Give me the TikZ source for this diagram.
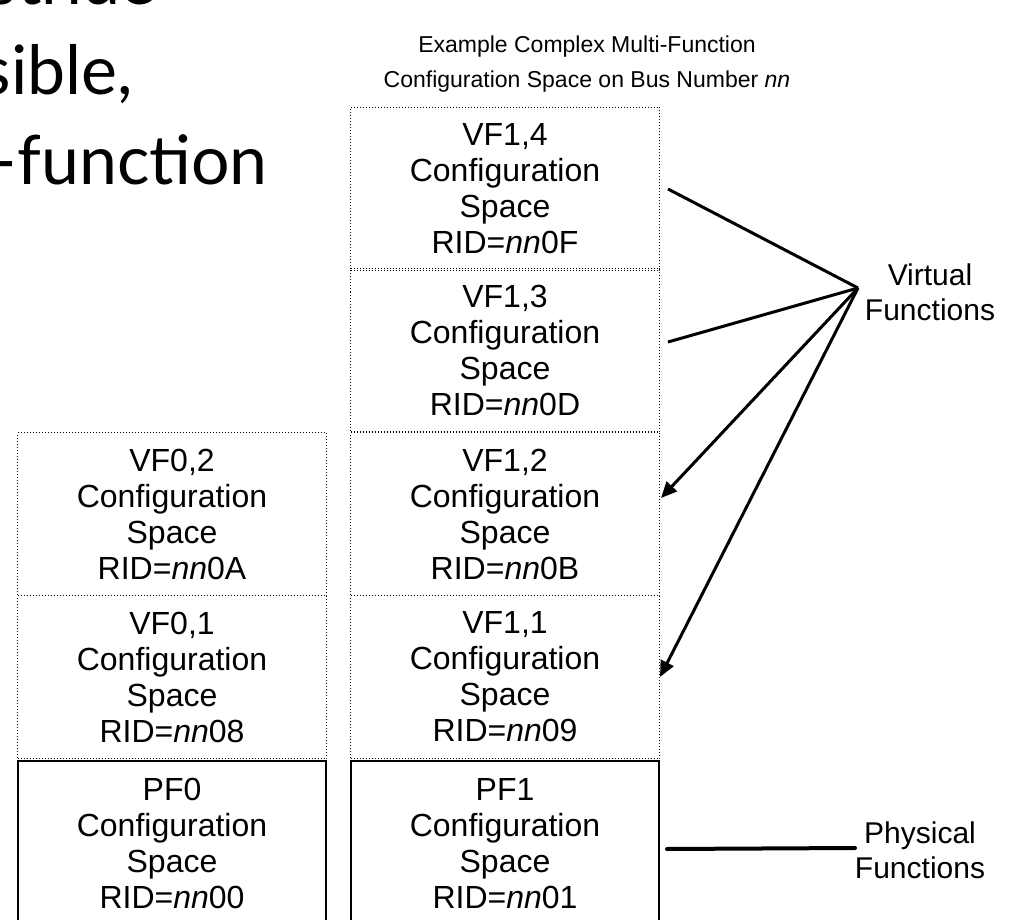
\documentclass[tikz,border=0pt]{standalone}
\usepackage{fontspec}
\setmainfont{Liberation Sans}
\newfontfamily\slidefont{Lato}
\usetikzlibrary{arrows.meta,calc}
\begin{document}
\begin{tikzpicture}[x=1pt,y=-1pt,
  cfgtext/.style={align=center, font=\fontsize{32}{36}\selectfont, inner sep=0pt},
  vfbox/.style={cfgtext, draw, dotted, line width=1pt, minimum width=309pt, minimum height=163pt, anchor=north west},
  pfbox/.style={cfgtext, draw, line width=2pt, minimum width=308pt, minimum height=165pt, anchor=north west},
  label/.style={align=center, font=\fontsize{30}{35}\selectfont, inner sep=0pt},
  slide/.style={font=\slidefont\fontsize{68}{90}\selectfont, inner sep=0pt, anchor=base east},
  conn/.style={line width=3pt},
  arr/.style={line width=3pt, -{Triangle[length=16pt,width=14pt]}}
]
\useasboundingbox (0,0) rectangle (1015,920);
\clip (0,0) rectangle (1015,920);
\fill[white] (0,0) rectangle (1015,920);

% slide text fragments
\node[slide] (s1) at (157,5) {stride};
\node[slide] (s2) at (133,95) {sible,};
\node[slide] (s3) at (268,185) {-function};

% title
\node[align=center, font=\fontsize{23}{35}\selectfont, inner sep=0pt] (title) at (587,64)
  {Example Complex Multi-Function\\Configuration Space on Bus Number \textit{nn}};

% right column
\node[vfbox] (vf14) at (350,107) {VF1,4\\Configuration\\Space\\RID=\textit{nn}0F};
\node[vfbox] (vf13) at (350,268) {VF1,3\\Configuration\\Space\\RID=\textit{nn}0D};
\node[vfbox] (vf12) at (350,432) {VF1,2\\Configuration\\Space\\RID=\textit{nn}0B};
\node[vfbox] (vf11) at (350,595) {VF1,1\\Configuration\\Space\\RID=\textit{nn}09};
\node[pfbox] (pf1) at (350,760) {PF1\\Configuration\\Space\\RID=\textit{nn}01};

% left column
\node[vfbox] (vf02) at (17,432) {VF0,2\\Configuration\\Space\\RID=\textit{nn}0A};
\node[vfbox] (vf01) at (17,595) {VF0,1\\Configuration\\Space\\RID=\textit{nn}08};
\node[pfbox] (pf0) at (17,760) {PF0\\Configuration\\Space\\RID=\textit{nn}00};

% labels
\node[label] (virt) at (930,292) {Virtual\\Functions};
\node[label] (phys) at (920,850) {Physical\\Functions};

% connectors
\coordinate (apex) at (858,288);
\draw[conn] ($(vf14.east)+(8,0)$) -- (apex);
\draw[conn] ($(vf13.east)+(8,-8)$) -- (apex);
\draw[arr] (apex) -- ($(vf12.east)+(1,-16)$);
\draw[arr] (apex) -- ($(vf11.east)+(0,0)$);
\coordinate (pend) at (855,848);
\draw[line width=4pt, line cap=round] ($(pf1.east)+(7,5.5)$) -- (pend);
\end{tikzpicture}
\end{document}
